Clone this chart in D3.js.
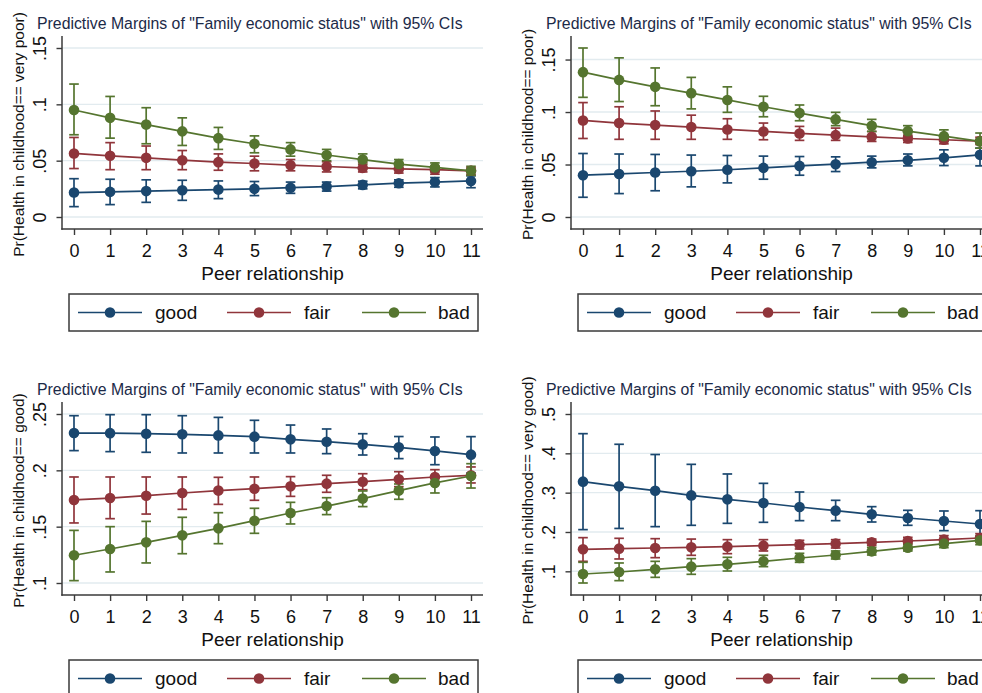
<!DOCTYPE html>
<html>
<head>
<meta charset="utf-8">
<script src="https://cdn.jsdelivr.net/npm/d3@7"></script>
<style>
  html, body { margin: 0; padding: 0; background: #ffffff; }
  svg { display: block; }
  text { font-family: "Liberation Sans", Arial, Helvetica, sans-serif; }
</style>
</head>
<body>
<svg id="chart" width="982" height="693"></svg>
<script>
// ---- data -------------------------------------------------------------
const peerScores = [0, 1, 2, 3, 4, 5, 6, 7, 8, 9, 10, 11];
const statusLabels = ["good", "fair", "bad"];
const chartTitle = 'Predictive Margins of "Family economic status" with 95% CIs';
const xAxisTitle = "Peer relationship";

// Outcome: health in childhood == very poor
const veryPoorGood   = [0.0217, 0.0223, 0.023, 0.0237, 0.0243, 0.025, 0.026, 0.027, 0.0285, 0.030, 0.031, 0.032];
const veryPoorGoodLo = [0.0092, 0.011, 0.013, 0.0148, 0.0163, 0.019, 0.021, 0.023, 0.025, 0.0264, 0.0267, 0.026];
const veryPoorGoodHi = [0.034, 0.0335, 0.033, 0.0326, 0.032, 0.0315, 0.031, 0.031, 0.0318, 0.033, 0.035, 0.0365];
const veryPoorFair   = [0.0564, 0.0543, 0.0525, 0.0504, 0.0487, 0.0475, 0.046, 0.0448, 0.0436, 0.0427, 0.042, 0.041];
const veryPoorFairLo = [0.043, 0.042, 0.042, 0.042, 0.0415, 0.041, 0.041, 0.040, 0.040, 0.039, 0.038, 0.0375];
const veryPoorFairHi = [0.0706, 0.066, 0.063, 0.059, 0.056, 0.054, 0.051, 0.049, 0.048, 0.046, 0.045, 0.044];
const veryPoorBad    = [0.095, 0.088, 0.082, 0.076, 0.070, 0.065, 0.060, 0.055, 0.051, 0.047, 0.044, 0.041];
const veryPoorBadLo  = [0.073, 0.070, 0.065, 0.0635, 0.060, 0.057, 0.054, 0.050, 0.0466, 0.043, 0.040, 0.037];
const veryPoorBadHi  = [0.118, 0.107, 0.097, 0.088, 0.0795, 0.072, 0.066, 0.060, 0.056, 0.051, 0.048, 0.045];

// Outcome: health in childhood == poor
const poorGood   = [0.0398, 0.041, 0.0424, 0.0436, 0.045, 0.0468, 0.0487, 0.0503, 0.0522, 0.054, 0.0564, 0.0592];
const poorGoodLo = [0.0188, 0.0223, 0.025, 0.0287, 0.0325, 0.036, 0.0398, 0.0433, 0.0468, 0.0487, 0.049, 0.0487];
const poorGoodHi = [0.0605, 0.060, 0.0596, 0.059, 0.0586, 0.058, 0.0576, 0.0573, 0.058, 0.060, 0.064, 0.0656];
const poorFair   = [0.092, 0.0895, 0.0876, 0.0857, 0.0834, 0.0815, 0.0796, 0.078, 0.0764, 0.0748, 0.0736, 0.0723];
const poorFairLo = [0.0748, 0.074, 0.074, 0.074, 0.074, 0.0736, 0.073, 0.073, 0.072, 0.071, 0.0697, 0.069];
const poorFairHi = [0.109, 0.105, 0.101, 0.097, 0.0936, 0.0895, 0.0863, 0.0847, 0.0815, 0.078, 0.0768, 0.076];
const poorBad    = [0.138, 0.1306, 0.124, 0.118, 0.1115, 0.105, 0.099, 0.093, 0.087, 0.0818, 0.077, 0.072];
const poorBadLo  = [0.114, 0.110, 0.106, 0.103, 0.0997, 0.0955, 0.0917, 0.087, 0.0815, 0.0768, 0.072, 0.0656];
const poorBadHi  = [0.161, 0.1516, 0.142, 0.133, 0.124, 0.115, 0.1067, 0.0997, 0.093, 0.087, 0.083, 0.080];

// Outcome: health in childhood == good
const goodGood   = [0.2331, 0.233, 0.2325, 0.232, 0.231, 0.2299, 0.2275, 0.2254, 0.223, 0.2204, 0.2172, 0.2139];
const goodGoodLo = [0.2175, 0.2166, 0.216, 0.2154, 0.2154, 0.2154, 0.2154, 0.2148, 0.2136, 0.2104, 0.205, 0.1976];
const goodGoodHi = [0.2485, 0.2494, 0.2494, 0.2485, 0.247, 0.2444, 0.2402, 0.2367, 0.2325, 0.230, 0.2296, 0.2299];
const goodFair   = [0.1737, 0.1754, 0.1775, 0.1799, 0.182, 0.1837, 0.1858, 0.1882, 0.1899, 0.192, 0.1941, 0.1956];
const goodFairLo = [0.1533, 0.1571, 0.1612, 0.1654, 0.1698, 0.1734, 0.1769, 0.1805, 0.1828, 0.1855, 0.1879, 0.1888];
const goodFairHi = [0.1941, 0.1941, 0.1941, 0.1941, 0.1938, 0.1941, 0.1944, 0.1956, 0.197, 0.1988, 0.2006, 0.203];
const goodBad    = [0.1246, 0.1302, 0.1361, 0.1423, 0.1485, 0.1553, 0.1621, 0.1683, 0.1749, 0.182, 0.1888, 0.195];
const goodBadLo  = [0.1021, 0.1098, 0.1178, 0.126, 0.1349, 0.1441, 0.1524, 0.1607, 0.1678, 0.1743, 0.1799, 0.1843];
const goodBadHi  = [0.1467, 0.150, 0.1547, 0.1583, 0.1624, 0.1663, 0.1716, 0.1757, 0.1817, 0.1879, 0.1947, 0.2059];

// Outcome: health in childhood == very good
const veryGoodGood   = [0.328, 0.316, 0.305, 0.293, 0.283, 0.2737, 0.2636, 0.2542, 0.245, 0.2356, 0.228, 0.2203];
const veryGoodGoodLo = [0.206, 0.209, 0.2136, 0.217, 0.222, 0.2246, 0.2288, 0.2288, 0.2254, 0.217, 0.2034, 0.188];
const veryGoodGoodHi = [0.45, 0.423, 0.397, 0.372, 0.3475, 0.3237, 0.3017, 0.2805, 0.2644, 0.2551, 0.2534, 0.2542];
const veryGoodFair   = [0.156, 0.1576, 0.1593, 0.161, 0.1627, 0.1653, 0.1678, 0.1703, 0.1737, 0.1771, 0.1805, 0.1847];
const veryGoodFairLo = [0.1254, 0.1314, 0.1347, 0.1407, 0.1449, 0.1517, 0.1568, 0.1593, 0.166, 0.1686, 0.172, 0.1737];
const veryGoodFairHi = [0.1856, 0.1839, 0.183, 0.182, 0.1805, 0.1805, 0.1788, 0.1805, 0.182, 0.1864, 0.1907, 0.1958];
const veryGoodBad    = [0.0932, 0.0983, 0.1051, 0.1119, 0.1178, 0.1254, 0.1339, 0.1415, 0.1508, 0.1602, 0.1703, 0.1788];
const veryGoodBadLo  = [0.0703, 0.0763, 0.0847, 0.0924, 0.1008, 0.1119, 0.1229, 0.1314, 0.1415, 0.1517, 0.1602, 0.1678];
const veryGoodBadHi  = [0.1229, 0.1212, 0.1254, 0.1322, 0.1356, 0.1407, 0.1458, 0.1517, 0.161, 0.1703, 0.1805, 0.1907];

// y-axis ticks and labels for each outcome
const veryPoorTicks = [0, 0.05, 0.1, 0.15];
const veryPoorTickLabels = ["0", ".05", ".1", ".15"];
const poorTicks = [0, 0.05, 0.1, 0.15];
const poorTickLabels = ["0", ".05", ".1", ".15"];
const goodTicks = [0.1, 0.15, 0.2, 0.25];
const goodTickLabels = [".1", ".15", ".2", ".25"];
const veryGoodTicks = [0.1, 0.2, 0.3, 0.4, 0.5];
const veryGoodTickLabels = [".1", ".2", ".3", ".4", ".5"];

const yTitles = [
  "Pr(Health in childhood== very poor)",
  "Pr(Health in childhood== poor)",
  "Pr(Health in childhood== good)",
  "Pr(Health in childhood== very good)"
];

// ---- panels built from the arrays above --------------------------------
const panels = [
  { yTitle: yTitles[0], ticks: veryPoorTicks, tickLabels: veryPoorTickLabels,
    series: [
      { est: veryPoorGood, lo: veryPoorGoodLo, hi: veryPoorGoodHi },
      { est: veryPoorFair, lo: veryPoorFairLo, hi: veryPoorFairHi },
      { est: veryPoorBad,  lo: veryPoorBadLo,  hi: veryPoorBadHi } ] },
  { yTitle: yTitles[1], ticks: poorTicks, tickLabels: poorTickLabels,
    series: [
      { est: poorGood, lo: poorGoodLo, hi: poorGoodHi },
      { est: poorFair, lo: poorFairLo, hi: poorFairHi },
      { est: poorBad,  lo: poorBadLo,  hi: poorBadHi } ] },
  { yTitle: yTitles[2], ticks: goodTicks, tickLabels: goodTickLabels,
    series: [
      { est: goodGood, lo: goodGoodLo, hi: goodGoodHi },
      { est: goodFair, lo: goodFairLo, hi: goodFairHi },
      { est: goodBad,  lo: goodBadLo,  hi: goodBadHi } ] },
  { yTitle: yTitles[3], ticks: veryGoodTicks, tickLabels: veryGoodTickLabels,
    series: [
      { est: veryGoodGood, lo: veryGoodGoodLo, hi: veryGoodGoodHi },
      { est: veryGoodFair, lo: veryGoodFairLo, hi: veryGoodFairHi },
      { est: veryGoodBad,  lo: veryGoodBadLo,  hi: veryGoodBadHi } ] }
];

// ---- styling and layout -------------------------------------------------
const colors = ["#1a476f", "#90353b", "#55752f"];
const panelOrigins = [[0, 0], [509, 0], [0, 366], [509, 366]];
const plot = { left: 62, right: 483, top: 36, bottom: 229, inset: 12 };
const legendBox = { x: 69, y: 294, w: 409, h: 37 };
const legendKeyX = [78, 227, 362];
const legendKeyW = 64;
const legendTextX = [155, 304, 438];
const axisColor = "#3a3a3a";
const gridColor = "#e2ebef";
const markerR = 5.3;
const lineW = 1.7;

const svg = d3.select("#chart");
svg.append("rect").attr("width", 982).attr("height", 693).attr("fill", "#ffffff");

panels.forEach((p, i) => {
  const [ox, oy] = panelOrigins[i];
  const g = svg.append("g").attr("transform", `translate(${ox},${oy})`);

  const allLo = d3.min(p.series, s => d3.min(s.lo));
  const allHi = d3.max(p.series, s => d3.max(s.hi));
  const yMin = Math.min(p.ticks[0], allLo);
  const yMax = Math.max(p.ticks[p.ticks.length - 1], allHi);

  const x = d3.scaleLinear()
    .domain(d3.extent(peerScores))
    .range([plot.left + plot.inset, plot.right - plot.inset]);
  const y = d3.scaleLinear()
    .domain([yMin, yMax])
    .range([plot.bottom - plot.inset, plot.top + plot.inset]);

  // gridlines
  g.append("g").selectAll("line").data(p.ticks).join("line")
    .attr("x1", plot.left).attr("x2", plot.right)
    .attr("y1", d => y(d)).attr("y2", d => y(d))
    .attr("stroke", gridColor).attr("stroke-width", 1.4);

  // y axis (ticks on the left, labels rotated)
  const yAxis = d3.axisLeft(y).tickValues(p.ticks).tickSize(5.5)
    .tickFormat((d, k) => p.tickLabels[k]);
  const yg = g.append("g").attr("transform", `translate(${plot.left},0)`).call(yAxis);
  yg.select(".domain").remove();
  yg.selectAll(".tick line").attr("stroke", axisColor).attr("stroke-width", 1.4);
  yg.selectAll(".tick text")
    .attr("x", null).attr("dy", null)
    .attr("transform", "translate(-16,0) rotate(-90)")
    .attr("text-anchor", "middle")
    .attr("fill", "#111")
    .style("font-size", "18px")
    .style("font-family", '"Liberation Sans", Arial, Helvetica, sans-serif');

  // x axis
  const xAxis = d3.axisBottom(x).tickValues(peerScores).tickSize(6).tickFormat(d3.format("d"));
  const xg = g.append("g").attr("transform", `translate(0,${plot.bottom})`).call(xAxis);
  xg.select(".domain").remove();
  xg.selectAll(".tick line").attr("stroke", axisColor).attr("stroke-width", 1.4);
  xg.selectAll(".tick text")
    .attr("y", 27.5).attr("dy", null)
    .attr("fill", "#111")
    .style("font-size", "18px")
    .style("font-family", '"Liberation Sans", Arial, Helvetica, sans-serif');

  // axis lines
  g.append("line").attr("x1", plot.left).attr("x2", plot.left)
    .attr("y1", plot.top).attr("y2", plot.bottom + 0.7)
    .attr("stroke", axisColor).attr("stroke-width", 1.5);
  g.append("line").attr("x1", plot.left - 0.7).attr("x2", plot.right)
    .attr("y1", plot.bottom).attr("y2", plot.bottom)
    .attr("stroke", axisColor).attr("stroke-width", 1.5);

  // titles
  const title = g.append("text")
    .attr("x", 37).attr("y", 29)
    .attr("fill", "#1c2a48")
    .style("font-size", "14px")
    .text(chartTitle);
  const tl = title.node().getComputedTextLength();
  if (tl > 0) title.style("font-size", (14 * 426 / tl).toFixed(2) + "px");

  g.append("text")
    .attr("transform", `translate(23.5,${(plot.top + plot.bottom) / 2 + 2}) rotate(-90)`)
    .attr("text-anchor", "middle")
    .attr("fill", "#111")
    .style("font-size", "15.5px")
    .text(p.yTitle);

  g.append("text")
    .attr("x", (plot.left + plot.right) / 2).attr("y", 279.5)
    .attr("text-anchor", "middle")
    .attr("fill", "#111")
    .style("font-size", "19px")
    .text(xAxisTitle);

  // confidence intervals (drawn behind the estimates)
  const capHalf = 4.8;
  p.series.forEach((s, si) => {
    const ci = g.append("g").attr("stroke", colors[si]).attr("stroke-width", lineW).attr("fill", "none");
    peerScores.forEach((v, k) => {
      const cx = x(v), y0 = y(s.lo[k]), y1 = y(s.hi[k]);
      ci.append("line").attr("x1", cx).attr("x2", cx).attr("y1", y0).attr("y2", y1);
      ci.append("line").attr("x1", cx - capHalf).attr("x2", cx + capHalf).attr("y1", y0).attr("y2", y0);
      ci.append("line").attr("x1", cx - capHalf).attr("x2", cx + capHalf).attr("y1", y1).attr("y2", y1);
    });
  });

  // connected estimates
  const line = d3.line().x((d, k) => x(peerScores[k])).y(d => y(d));
  p.series.forEach((s, si) => {
    g.append("path").datum(s.est)
      .attr("d", line)
      .attr("fill", "none")
      .attr("stroke", colors[si]).attr("stroke-width", lineW);
    g.append("g").selectAll("circle").data(s.est).join("circle")
      .attr("cx", (d, k) => x(peerScores[k]))
      .attr("cy", d => y(d))
      .attr("r", markerR)
      .attr("fill", colors[si]);
  });

  // legend
  const lg = g.append("g");
  lg.append("rect")
    .attr("x", legendBox.x).attr("y", legendBox.y)
    .attr("width", legendBox.w).attr("height", legendBox.h)
    .attr("fill", "#ffffff").attr("stroke", axisColor).attr("stroke-width", 1.5);
  const ly = legendBox.y + legendBox.h / 2;
  statusLabels.forEach((lab, si) => {
    lg.append("line")
      .attr("x1", legendKeyX[si]).attr("x2", legendKeyX[si] + legendKeyW)
      .attr("y1", ly).attr("y2", ly)
      .attr("stroke", colors[si]).attr("stroke-width", lineW);
    lg.append("circle")
      .attr("cx", legendKeyX[si] + legendKeyW / 2).attr("cy", ly).attr("r", markerR)
      .attr("fill", colors[si]);
    lg.append("text")
      .attr("x", legendTextX[si]).attr("y", ly + 6.5)
      .attr("fill", "#111")
      .style("font-size", "19px")
      .text(lab);
  });
});
</script>
</body>
</html>
